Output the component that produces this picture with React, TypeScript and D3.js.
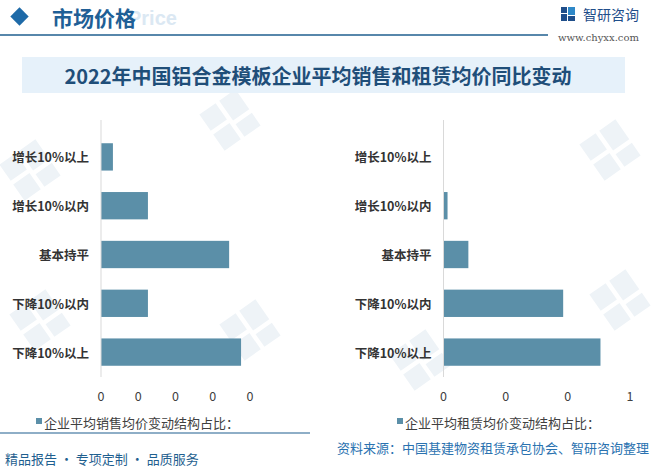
import React from "react";
import * as d3 from "d3";

const categories = ["增长10%以上", "增长10%以内", "基本持平", "下降10%以内", "下降10%以上"];
const salesShare = [0.032, 0.126, 0.344, 0.126, 0.376];
const rentShare = [0, 0.013, 0.08, 0.385, 0.505];
const salesTicks = [0, 0.1, 0.2, 0.3, 0.4];
const rentTicks = [0, 0.2, 0.4, 0.6];
const salesLegend = "企业平均销售均价变动结构占比：";
const rentLegend = "企业平均租赁均价变动结构占比：";
const chartTitle = "2022年中国铝合金模板企业平均销售和租赁均价同比变动";
const sectionTitle = "市场价格";
const sourceText = "资料来源：中国基建物资租赁承包协会、智研咨询整理";
const sloganText = "精品报告 · 专项定制 · 品质服务";

const W = 651;
const H = 468;
const BAR = "#5b8fa8";
const FONT = "'Noto Sans CJK SC', 'Microsoft YaHei', sans-serif";

type PanelProps = {
  values: number[];
  ticks: number[];
  x0: number;
  x1: number;
  legend: string;
  legendX: number;
};

function Panel({ values, ticks, x0, x1, legend, legendX }: PanelProps) {
  const x = d3.scaleLinear().domain([0, ticks[ticks.length - 1]]).range([x0, x1]);
  const y = d3.scaleBand<string>().domain(categories).range([132.5, 376.5]).paddingInner(0.44).paddingOuter(0.22);
  const fmt = d3.format(".0f");
  return (
    <g>
      {categories.map((c, i) => (
        <rect key={c} x={x(0)} y={y(c)} width={Math.max(0, x(values[i]) - x(0))} height={y.bandwidth()} fill={BAR} />
      ))}
      <line x1={x(0)} x2={x(0)} y1={120} y2={377} stroke="#d9d9d9" strokeWidth={1} />
      {categories.map((c) => (
        <text key={c} x={x0 - 12} y={(y(c) ?? 0) + y.bandwidth() / 2} textAnchor="end" dominantBaseline="central"
          fontSize={12.5} fontWeight="bold" fill="#333333" fontFamily={FONT}>{c}</text>
      ))}
      {ticks.map((t) => (
        <text key={t} x={x(t)} y={395} textAnchor="middle" dominantBaseline="central" fontSize={12.5} fill="#404040"
          fontFamily={FONT}>{fmt(t)}</text>
      ))}
      <rect x={legendX - 8} y={418} width={6} height={6} fill={BAR} />
      <text x={legendX} y={422} dominantBaseline="central" fontSize={13} fill="#404040" fontFamily={FONT}>{legend}</text>
    </g>
  );
}

function LogoMark({ cx, cy, s }: { cx: number; cy: number; s: number }) {
  return (
    <g transform={`translate(${cx} ${cy}) rotate(-35) scale(${s})`} fill="#eef3f7">
      <rect x={-20} y={-20} width={18} height={18} />
      <rect x={-20} y={2} width={18} height={18} />
      <rect x={2} y={-20} width={18} height={22} />
      <rect x={2} y={6} width={18} height={14} />
    </g>
  );
}

export default function App() {
  const marks = [
    [30, 170], [230, 120], [610, 150], [250, 330], [420, 360], [620, 300], [40, 320],
  ];
  return (
    <svg width={W} height={H} style={{ position: "absolute", left: 0, top: 0, background: "#fff" }}>
      <rect width={W} height={H} fill="#ffffff" />
      {marks.map(([mx, my], i) => (
        <LogoMark key={i} cx={mx} cy={my} s={1.1} />
      ))}
      {/* header */}
      <rect x={13} y={10} width={13} height={13} transform="rotate(45 19.5 16.5)" fill="#1e6aa8" />
      <text x={128} y={25} fontSize={20} fontWeight="bold" fill="#dbe8f3" fontFamily="Arial, sans-serif">Price</text>
      <text x={52} y={17} dominantBaseline="central" fontSize={21} fontWeight="bold" fill="#1f5f96" fontFamily={FONT}>{sectionTitle}</text>
      <line x1={0} x2={548} y1={35} y2={35} stroke="#1f5f8f" strokeWidth={1.5} />
      <g>
        <rect x={561} y={7} width={6} height={6} fill="#1f4e8a" />
        <rect x={561} y={14} width={6} height={7} fill="#1f4e8a" />
        <rect x={568} y={7} width={7} height={8} fill="#2e88c8" />
        <rect x={568} y={16} width={7} height={5} fill="#1f4e8a" />
      </g>
      <text x={583} y={14} dominantBaseline="central" fontSize={14} fill="#1f4e8a" fontFamily={FONT}>智研咨询</text>
      <text x={558} y={37} dominantBaseline="central" fontSize={10} fill="#555" fontFamily="'DejaVu Serif', serif">www.chyxx.com</text>
      {/* title box */}
      <rect x={22} y={57} width={603} height={36} fill="#e6f1fa" />
      <text x={318} y={75} textAnchor="middle" dominantBaseline="central" fontSize={20} fontWeight="bold" fill="#1f4e79"
        fontFamily={FONT}>{chartTitle}</text>
      <Panel values={salesShare} ticks={salesTicks} x0={101} x1={250} legend={salesLegend} legendX={44} />
      <Panel values={rentShare} ticks={rentTicks} x0={443.5} x1={630} legend={rentLegend} legendX={405} />
      {/* footer */}
      <line x1={0} x2={310} y1={433} y2={433} stroke="#1f5f8f" strokeWidth={1.2} />
      <text x={5} y={458} dominantBaseline="central" fontSize={13} fill="#1f5f8f" fontFamily={FONT}>{sloganText}</text>
      <text x={649} y={447} textAnchor="end" dominantBaseline="central" fontSize={13} fill="#2a72b0" fontFamily={FONT}>{sourceText}</text>
    </svg>
  );
}
